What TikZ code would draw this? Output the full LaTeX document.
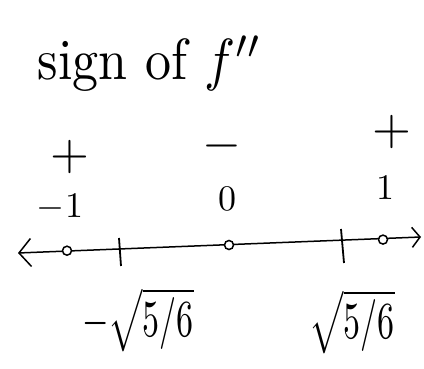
\documentclass[tikz,border=0pt]{standalone}
\usepackage{graphicx}
\usetikzlibrary{arrows.meta}
\newcommand{\sketchmath}[2]{\scalebox{#1}{$#2$}}
\begin{document}
\begin{tikzpicture}[x=1pt,y=-1pt,
  lbl/.style={inner sep=0pt},
  opendot/.style={circle, draw, line width=1.5pt, fill=white, minimum size=9pt, inner sep=0pt},
  tickmark/.style={line width=1.8pt},
  axis/.style={line width=1.5pt, {Straight Barb[length=12pt,width=28pt]}-{Straight Barb[length=8pt,width=20pt]}}]
\useasboundingbox (0,0) rectangle (424,369);
% title
\node[lbl] (title) at (150,64) {\scalebox{5.2}[5.8]{sign of $f''$}};
% signs
\node[lbl] (s1) at (70,157) {\sketchmath{5}{+}};
\node[lbl] (s2) at (222,146) {\sketchmath{5}{-}};
\node[lbl] (s3) at (392,132) {\sketchmath{5}{+}};
% values
\node[lbl] (v1) at (60,207) {\sketchmath{3.6}{-1}};
\node[lbl] (v2) at (227,199) {\sketchmath{3.6}{0}};
\node[lbl] (v3) at (385,188) {\sketchmath{3.6}{1}};
% axis
\coordinate (L) at (18,253);
\coordinate (R) at (421,237);
\draw[axis] (L) -- (R);
\node[opendot] (d1) at (67,250.7) {};
\node[opendot] (d2) at (229,245) {};
\node[opendot] (d3) at (383,239.6) {};
% ticks
\coordinate (t1a) at (119,238); \coordinate (t1b) at (121,266);
\coordinate (t2a) at (341,229); \coordinate (t2b) at (344,263);
\draw[tickmark] (t1a) -- (t1b);
\draw[tickmark] (t2a) -- (t2b);
% critical value labels
\node[lbl] (c1) at (138,320) {\scalebox{3.4}[5.2]{$-\sqrt{5/6}$}};
\node[lbl] (c2) at (352,322) {\scalebox{3.4}[5.2]{$\sqrt{5/6}$}};
\end{tikzpicture}
\end{document}
